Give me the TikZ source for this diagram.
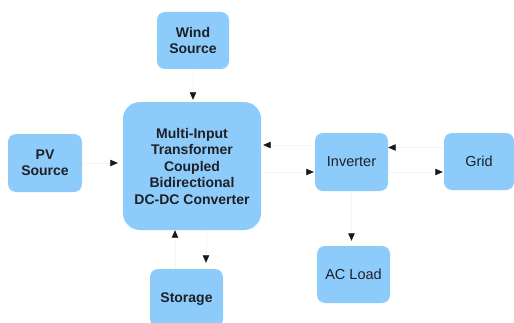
\documentclass[tikz,border=0pt]{standalone}
\usepackage{fontspec}
\setmainfont{Liberation Sans}
\usetikzlibrary{arrows.meta}
\definecolor{boxblue}{RGB}{141,203,250}
\definecolor{txt}{RGB}{30,32,40}
\tikzset{
  blk/.style={draw=none, fill=boxblue, rounded corners=8pt, inner sep=0pt, align=center, text=txt},
  boldtxt/.style={font=\fontsize{14}{16.5}\selectfont\bfseries},
  regtxt/.style={font=\fontsize{14.5}{16.5}\selectfont},
  conn/.style={draw=black!4, line width=0.6pt, -{Triangle[length=7.5pt,width=6.5pt,color=black!90]}}
}
\begin{document}
\begin{tikzpicture}[x=1pt,y=1pt]
\useasboundingbox (0,0) rectangle (514,322);
\clip (0,0) rectangle (514,322);
\fill[white] (0,0) rectangle (514,322);
\node[blk,boldtxt,minimum width=72pt,minimum height=57pt] (wind) at (193,281.5) {Wind\\Source};
\node[blk,boldtxt,minimum width=138pt,minimum height=128pt,rounded corners=17pt] (main) at (192,156) {Multi-Input\\Transformer\\Coupled\\Bidirectional\\DC-DC Converter};
\node[blk,boldtxt,minimum width=74pt,minimum height=58pt] (pv) at (45,159) {PV\\Source};
\node[blk,regtxt,minimum width=73pt,minimum height=58pt] (inv) at (351.5,160) {Inverter};
\node[blk,regtxt,minimum width=70pt,minimum height=57pt] (grid) at (479,160.5) {Grid};
\node[blk,regtxt,minimum width=73pt,minimum height=57pt] (acload) at (353.5,47.5) {AC Load};
\node[blk,boldtxt,minimum width=73pt,minimum height=58pt,text depth=0pt] (storage) at (186.5,24) {Storage};

\draw[conn,shorten >=2pt] (wind.south) -- (wind.south |- main.north);
\draw[conn,shorten >=5pt] (pv.east) -- (pv.east -| main.west);
\draw[conn,shorten >=2pt] ([yshift=17pt]inv.west) -- ([yshift=17pt]inv.west -| main.east);
\draw[conn,shorten >=1pt] ([yshift=-10pt]inv.west -| main.east) -- ([yshift=-10pt]inv.west);
\draw[conn,shorten >=0pt] ([yshift=14pt]grid.west) -- ([yshift=14pt]grid.west -| inv.east);
\draw[conn,shorten >=1pt] ([yshift=-10pt]inv.east) -- ([yshift=-10pt]inv.east -| grid.west);
\draw[conn,shorten >=5pt] (inv.south) -- (inv.south |- acload.north);
\draw[conn,shorten >=0pt] ([xshift=-11.5pt]storage.north) -- ([xshift=-11.5pt]storage.north |- main.south);
\draw[conn,shorten >=6pt] ([xshift=19.5pt]storage.north |- main.south) -- ([xshift=19.5pt]storage.north);
\end{tikzpicture}
\end{document}
